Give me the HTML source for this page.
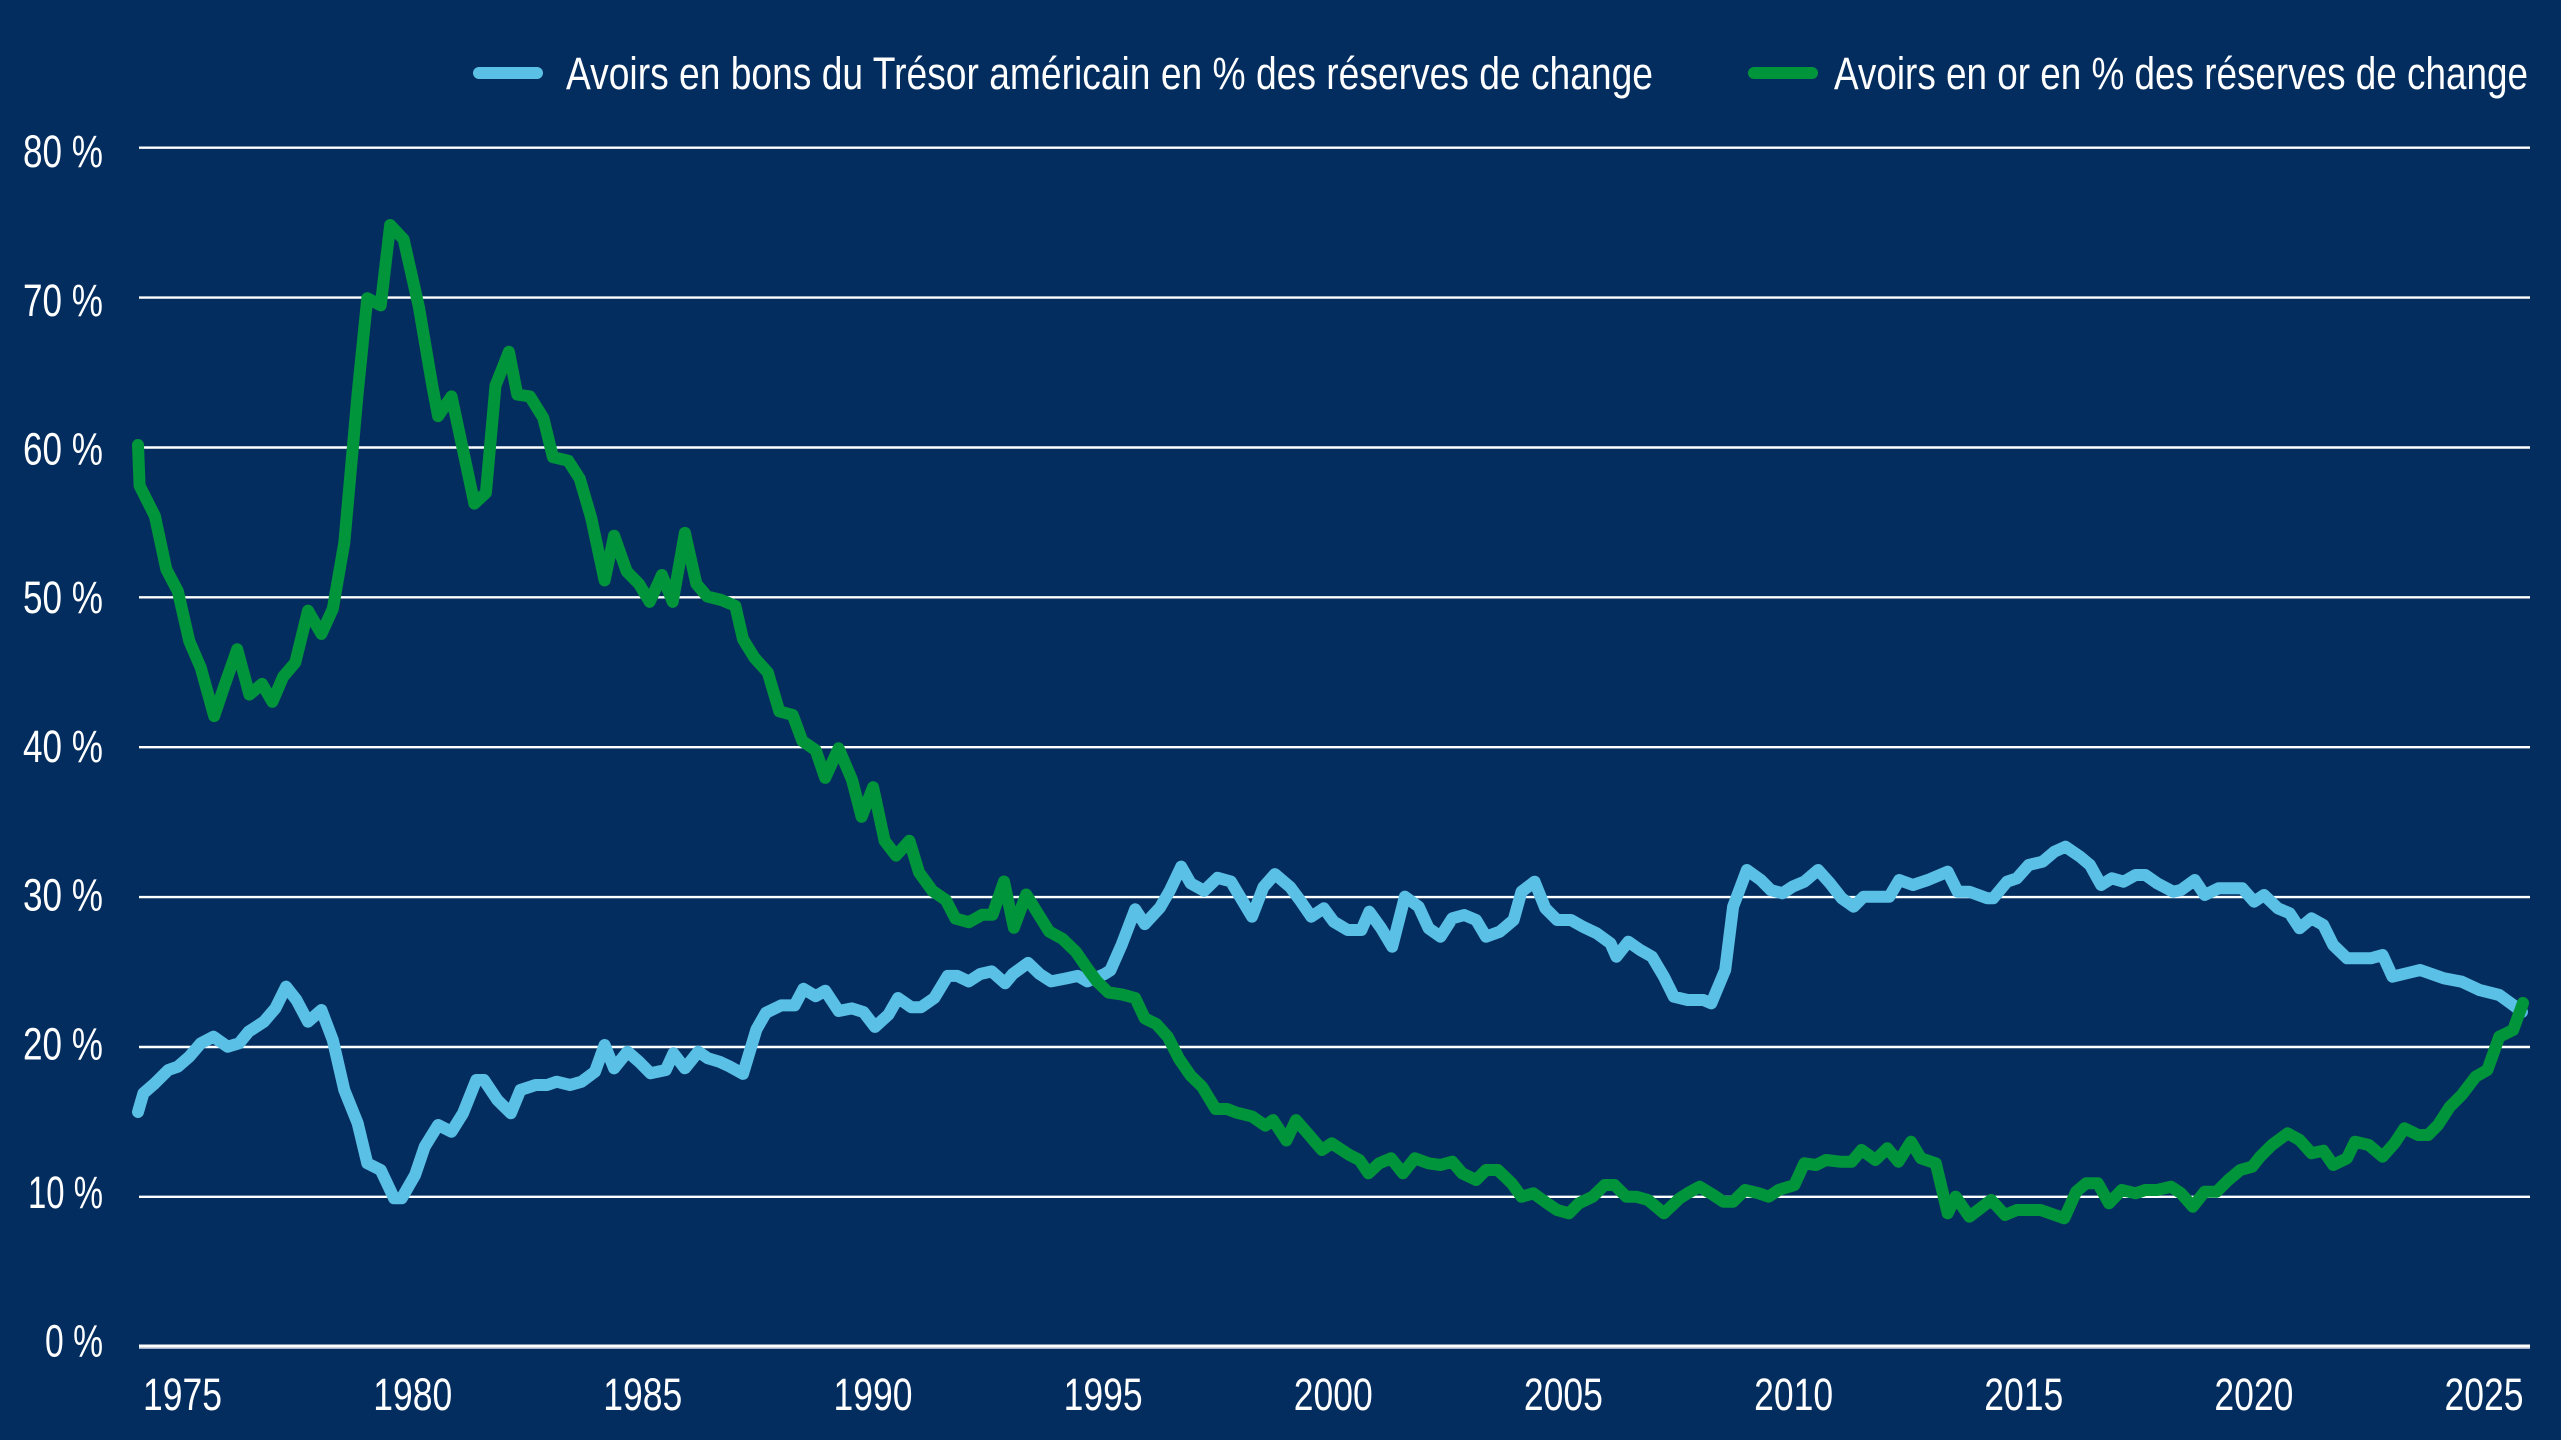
<!DOCTYPE html>
<html>
<head>
<meta charset="utf-8">
<style>
  html, body { margin: 0; padding: 0; background: #032d5e; overflow: hidden; }
  svg { display: block; }
  text { font-family: "Liberation Sans", "DejaVu Sans", sans-serif; fill: #ffffff; }
</style>
</head>
<body>
<svg width="2561" height="1440" viewBox="0 0 2561 1440" xmlns="http://www.w3.org/2000/svg">
  <rect x="0" y="0" width="2561" height="1440" fill="#032d5e"/>

  <!-- gridlines -->
  <g stroke="#ffffff" stroke-width="2.4">
    <line x1="139" y1="147.7" x2="2530" y2="147.7"/>
    <line x1="139" y1="297.6" x2="2530" y2="297.6"/>
    <line x1="139" y1="447.5" x2="2530" y2="447.5"/>
    <line x1="139" y1="597.3" x2="2530" y2="597.3"/>
    <line x1="139" y1="747.2" x2="2530" y2="747.2"/>
    <line x1="139" y1="897.1" x2="2530" y2="897.1"/>
    <line x1="139" y1="1047" x2="2530" y2="1047"/>
    <line x1="139" y1="1196.8" x2="2530" y2="1196.8"/>
  </g>
  <rect x="139" y="1344.5" width="2391" height="3" fill="#ffffff"/>
  <rect x="139" y="1347.5" width="2391" height="1.5" fill="#9fb0c8"/>

  <!-- y labels -->
  <g font-size="45" text-anchor="end">
    <text x="103" y="167" textLength="80" lengthAdjust="spacingAndGlyphs">80 %</text>
    <text x="103" y="316" textLength="80" lengthAdjust="spacingAndGlyphs">70 %</text>
    <text x="103" y="464.5" textLength="80" lengthAdjust="spacingAndGlyphs">60 %</text>
    <text x="103" y="613" textLength="80" lengthAdjust="spacingAndGlyphs">50 %</text>
    <text x="103" y="762" textLength="80" lengthAdjust="spacingAndGlyphs">40 %</text>
    <text x="103" y="910.6" textLength="80" lengthAdjust="spacingAndGlyphs">30 %</text>
    <text x="103" y="1059.3" textLength="80" lengthAdjust="spacingAndGlyphs">20 %</text>
    <text x="103" y="1208" textLength="75" lengthAdjust="spacingAndGlyphs">10 %</text>
    <text x="103" y="1356.7" textLength="58" lengthAdjust="spacingAndGlyphs">0 %</text>
  </g>

  <!-- x labels -->
  <g font-size="45" text-anchor="middle">
    <text x="182.5" y="1410" textLength="79" lengthAdjust="spacingAndGlyphs">1975</text>
    <text x="412.7" y="1410" textLength="79" lengthAdjust="spacingAndGlyphs">1980</text>
    <text x="642.8" y="1410" textLength="79" lengthAdjust="spacingAndGlyphs">1985</text>
    <text x="873" y="1410" textLength="79" lengthAdjust="spacingAndGlyphs">1990</text>
    <text x="1103.1" y="1410" textLength="79" lengthAdjust="spacingAndGlyphs">1995</text>
    <text x="1333.3" y="1410" textLength="79" lengthAdjust="spacingAndGlyphs">2000</text>
    <text x="1563.4" y="1410" textLength="79" lengthAdjust="spacingAndGlyphs">2005</text>
    <text x="1793.6" y="1410" textLength="79" lengthAdjust="spacingAndGlyphs">2010</text>
    <text x="2023.7" y="1410" textLength="79" lengthAdjust="spacingAndGlyphs">2015</text>
    <text x="2253.9" y="1410" textLength="79" lengthAdjust="spacingAndGlyphs">2020</text>
    <text x="2484" y="1410" textLength="79" lengthAdjust="spacingAndGlyphs">2025</text>
  </g>

  <!-- legend -->
  <rect x="473" y="67" width="70" height="12" rx="6" ry="6" fill="#5bc0e6"/>
  <text x="566" y="89" font-size="45" textLength="1087" lengthAdjust="spacingAndGlyphs">Avoirs en bons du Trésor américain en % des réserves de change</text>
  <rect x="1748" y="67" width="70" height="12" rx="6" ry="6" fill="#00953a"/>
  <text x="1834" y="89" font-size="45" textLength="694" lengthAdjust="spacingAndGlyphs">Avoirs en or en % des réserves de change</text>

  <!-- blue series -->
  <polyline fill="none" stroke="#5bc0e6" stroke-width="12" stroke-linejoin="round" stroke-linecap="round"
    points="138,1112 143.4,1093.3 154.9,1083.3 168.3,1070 177.8,1066.7 189.3,1056.7 200.8,1043.3 213.4,1036.7 227.6,1046.7 239.1,1043.3 248.6,1031.7 263.9,1021.7 275.4,1008.3 286.1,986.7 296.5,1000 308,1021.7 321.4,1010 332.8,1040 344.3,1090 357.7,1123.3 367.3,1163.3 380.7,1170 394.1,1198.3 401.7,1198.3 415.1,1175 424.7,1146.7 438.1,1125 451.5,1131.7 463,1113.3 476.3,1080 484,1080 497.4,1100 510.8,1113.3 520.4,1090 535.7,1085 547.1,1085 556.7,1081.7 570.1,1085 581.6,1081.7 595,1071.7 604.6,1045 614.1,1068.3 627.5,1051.7 639,1061.7 650.5,1073.3 665.8,1070 673.4,1053.3 684.9,1068.3 698.3,1051.7 707.9,1058.3 719.4,1061.7 730.1,1066.7 743,1073.9 756.4,1029.5 765.9,1012.8 781.2,1005.4 794.6,1005.4 803.4,988.8 815.7,996.2 825.2,990.7 838.6,1011 852,1008.4 863.5,1012.1 875,1026.9 888.4,1014.7 898,998 911.4,1007.3 920.9,1007.3 934.3,998 947.7,975.9 957.3,975.9 968.8,981.4 980.2,974 991.7,971.4 1005.1,983.3 1012.8,974 1028.1,962.9 1039.6,974 1051,981.4 1066.4,978.4 1077.8,975.9 1087.4,981.4 1104.6,974 1110.4,970.3 1121.8,944.4 1135.2,909.3 1144.8,924.1 1160.1,907.4 1169.7,890.8 1181.2,866.7 1190.7,883.4 1204.1,890.8 1217.5,877.8 1230.9,881.5 1252,916.7 1263.4,887.1 1274.9,874.1 1290.2,887.1 1299.8,900 1311.3,916.7 1323.8,908.3 1333.7,921.7 1347.6,930 1361.4,930 1369.3,911.7 1381.2,928.3 1392.2,946.7 1404.9,896.7 1418.7,906.7 1428.6,928.3 1440.5,936.7 1452.3,918.3 1464.2,915 1476.1,920 1486,936.7 1499.8,931.7 1513.6,920 1521.5,891.7 1534.6,881.7 1545.3,908.3 1557.1,920 1571,920 1582.8,926.7 1596.7,933.3 1610.5,943.3 1616.4,956.7 1628.3,941.7 1640.2,950 1652,956.7 1663.9,976.7 1673.8,996.7 1687.6,1000 1703.4,1000 1711.3,1003.3 1725.2,970 1733.1,906.7 1746.9,870 1760.8,880 1770.7,890 1782.5,893.3 1792.4,886.7 1804.3,881.7 1818.1,870 1830,883.3 1841.8,898.3 1853.7,906.7 1863.6,896.7 1879.4,896.7 1889.3,896.7 1899.2,880 1913,885 1927.9,880 1947.7,871.7 1957.6,891.7 1969.4,891.7 1987.2,898.3 1993.2,898.3 2007,881.7 2016.9,878.3 2028.7,865 2042.6,861.7 2054.4,851.7 2065.5,846.7 2080.1,856.7 2090,865 2101.1,885 2111.8,878.3 2123.6,881.7 2135.5,875 2145.4,875 2157.2,883.3 2173.1,891.7 2181,890 2194.8,880 2204.7,895 2218.5,888.3 2242.3,888.3 2254.1,901.7 2264,895 2277.9,908.3 2289.7,913.3 2299.6,928.3 2311.5,918.3 2323.3,925 2333.2,945 2347,958.3 2370.8,958.3 2382.6,955 2392.5,976.7 2420.2,970 2443.9,978.3 2461.7,981.7 2479.5,990 2499.3,995 2513.1,1005 2522,1012"/>

  <!-- green series -->
  <polyline fill="none" stroke="#00953a" stroke-width="12" stroke-linejoin="round" stroke-linecap="round"
    points="138,445 139.6,485.7 154.9,516.1 166.4,569.6 177.8,591.1 189.3,641.1 200.8,667.9 214.2,716.1 223.8,687.5 237.2,649.3 249.4,694.6 262,683.9 272.4,701.8 283.1,676.8 295.3,662.5 308,610.7 321.4,633.9 332.8,608.9 344.3,542.9 357.7,392.9 367.3,298.2 380.7,305.4 390.2,225 403.6,239.3 418.9,307.1 432.3,385.7 438.1,416.1 451.5,396.4 463,450 474.4,503.6 485.9,492.9 495.5,385.7 508.9,351.8 517.3,394.6 529.9,396.4 543.3,417.9 552.9,457.1 568.2,460.7 579.7,478.6 591.2,517.9 604.6,580.4 614.1,535.7 626.7,571.4 639,583.9 649.7,601.8 661.9,575 672.7,601.8 684.9,532.9 696.4,583.9 707.1,596.4 721.3,600 735.3,605.9 743,639.2 754.4,657.7 767.8,672.5 779.3,711.3 792.7,715 802.3,740.9 815.7,750.2 825.2,777.9 838.6,748.3 852,779.8 861.6,816.8 873.1,787.2 884.6,840.8 896,855.6 909.4,840.8 919,872.3 932.4,890.8 945.8,900 955.4,918.5 968.8,922.2 982.2,914.8 992.5,914.8 1004,881.5 1013.9,927.8 1026.2,894.5 1037.6,913 1049.1,931.5 1062.5,938.9 1075.9,951.8 1087.4,968.5 1097,981.4 1108.4,992.5 1121.8,994.4 1135.2,998 1144.8,1018.4 1156.3,1024 1167.8,1036.9 1179.2,1059.1 1190.7,1075.7 1202.2,1086.8 1215.6,1109 1227.1,1109 1236.6,1112.7 1252,1116.4 1265.4,1125.7 1273,1120.1 1286.4,1140.5 1296,1120.1 1307.4,1133.1 1321.9,1150 1331.7,1143.3 1349.5,1155 1359.4,1160 1368.5,1173.3 1379.2,1163.3 1391.1,1158.3 1402.9,1173.3 1414.8,1158.3 1428.6,1163.3 1440.5,1165 1452.3,1161.7 1462.2,1173.3 1476.1,1180 1486,1170 1497.8,1170 1511.7,1183.3 1521.5,1196.7 1533.4,1193.3 1547.2,1203.3 1557.1,1210 1569,1213.3 1578.9,1203.3 1592.7,1196.7 1604.6,1185 1614.5,1185 1626.3,1196.7 1636.2,1196.7 1648.1,1200 1663.9,1213.3 1679.7,1198.3 1687.6,1193.3 1699.5,1186.7 1713.3,1195 1723.2,1201.7 1733.1,1201.7 1745,1190 1758.8,1193.3 1768.7,1196.7 1778.6,1190 1794.4,1185 1804.3,1163.3 1816.1,1165 1826,1160 1839.9,1161.7 1851.7,1161.7 1861.6,1150 1875.4,1160 1887.3,1148.3 1898.4,1161.7 1911,1141.7 1920.9,1158.3 1935.8,1163.3 1947.7,1213.3 1955.6,1196.7 1969.4,1216.7 1991.2,1200 2005,1215 2016.9,1210 2040.6,1210 2064.3,1218.3 2076.2,1191.7 2086.1,1183.3 2097.9,1183.3 2109,1203.3 2121.7,1190 2135.5,1193.3 2145.4,1190 2157.2,1190 2171.1,1186.7 2181,1193.3 2192.8,1206.7 2204.7,1191.7 2216.6,1191.7 2228.4,1180 2240.3,1170 2252.1,1166.7 2260.1,1156.7 2271.9,1145 2287.7,1133.3 2299.6,1140 2311.5,1153.3 2323.3,1150.7 2333.2,1165 2347,1158.3 2355,1141.7 2368.8,1145 2382.6,1156.7 2394.5,1143.3 2404.4,1128.3 2418.2,1135 2428.1,1135 2438,1125 2449.9,1106.7 2461.7,1095 2475.6,1076.7 2487.4,1070 2499.3,1036.7 2513.1,1030 2523,1003"/>
</svg>
</body>
</html>
